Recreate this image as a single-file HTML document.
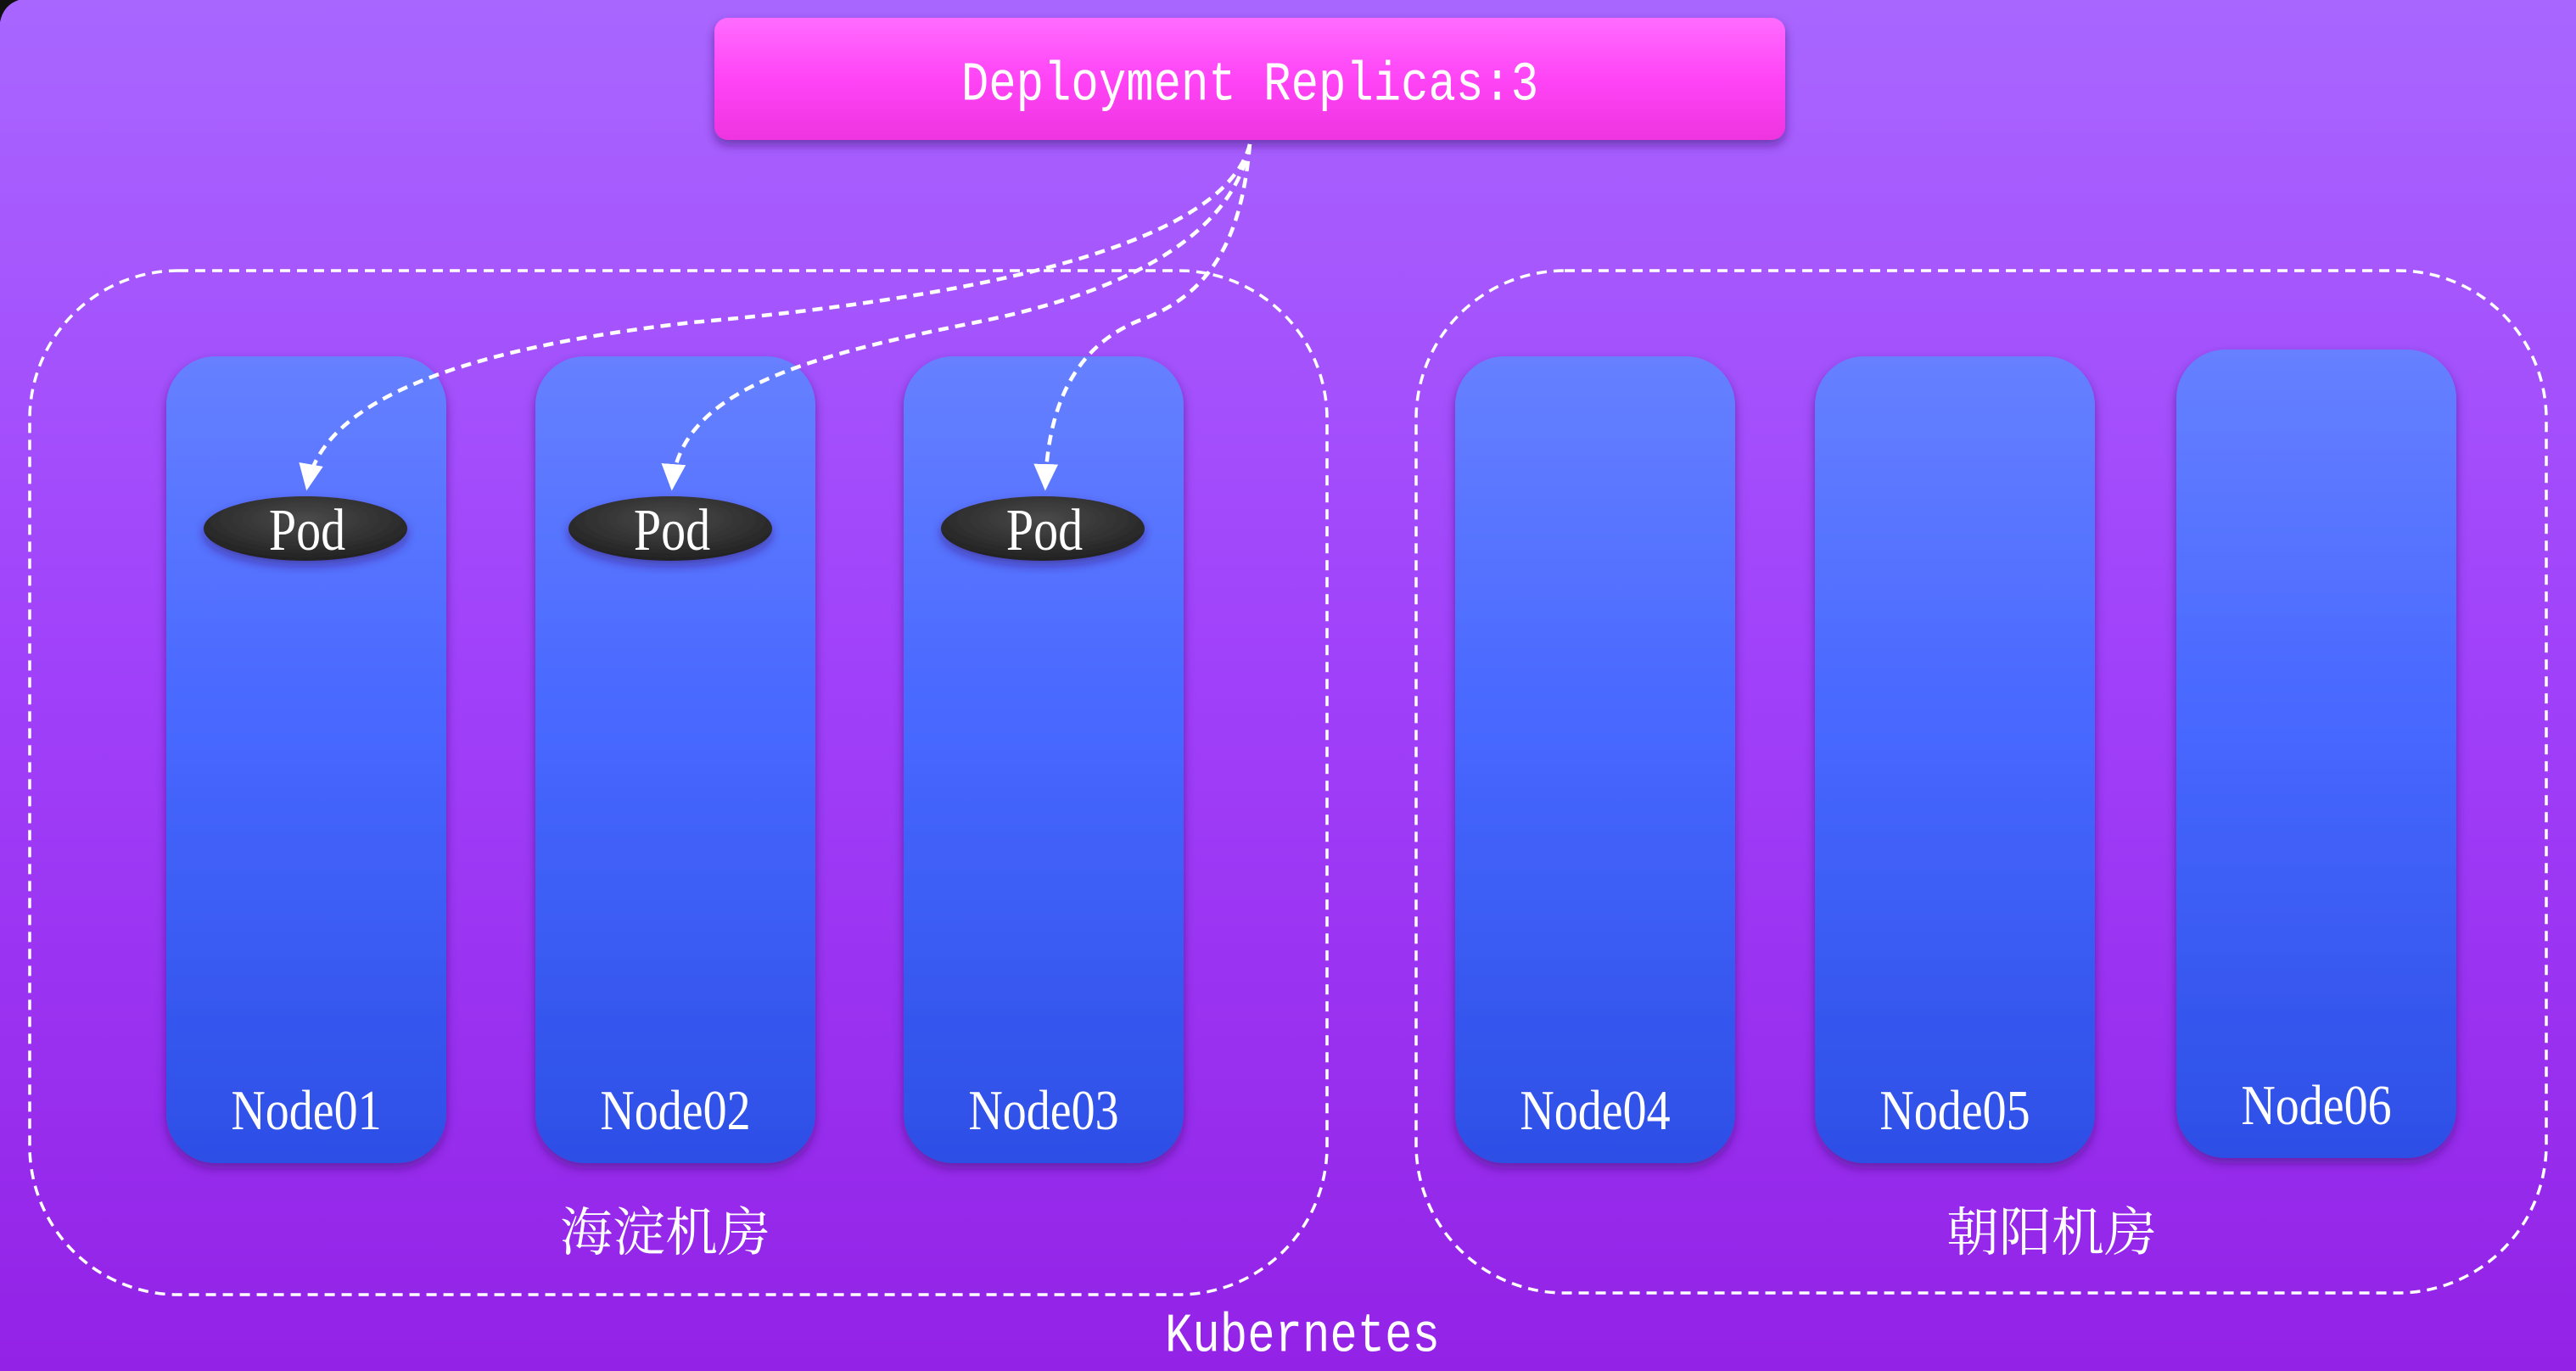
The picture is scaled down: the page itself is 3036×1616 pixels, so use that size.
<!DOCTYPE html>
<html><head><meta charset="utf-8">
<style>
html,body{margin:0;padding:0;width:3036px;height:1616px;overflow:hidden;}
svg{display:block;}
</style></head>
<body>
<svg width="3036" height="1616" viewBox="0 0 3036 1616" xmlns="http://www.w3.org/2000/svg">
<defs>
<linearGradient id="bg" x1="0" y1="0" x2="0" y2="1">
<stop offset="0" stop-color="#a966ff"/>
<stop offset="0.5" stop-color="#a040fa"/>
<stop offset="1" stop-color="#9322e6"/>
</linearGradient>
<linearGradient id="node" x1="0" y1="0" x2="0" y2="1">
<stop offset="0" stop-color="#6680ff"/>
<stop offset="0.45" stop-color="#4868ff"/>
<stop offset="1" stop-color="#2d4fe6"/>
</linearGradient>
<linearGradient id="dep" x1="0" y1="0" x2="0" y2="1">
<stop offset="0" stop-color="#ff6cff"/>
<stop offset="0.5" stop-color="#ff44f6"/>
<stop offset="1" stop-color="#ee34e0"/>
</linearGradient>
<radialGradient id="pod" cx="0.5" cy="0.35" r="0.7">
<stop offset="0" stop-color="#4a4a4a"/>
<stop offset="1" stop-color="#1e1e1e"/>
</radialGradient>
<filter id="sh" x="-20%" y="-20%" width="140%" height="140%">
<feDropShadow dx="0" dy="6" stdDeviation="6" flood-color="#3a0a70" flood-opacity="0.55"/>
</filter>
<marker id="ah" markerWidth="8" markerHeight="8" refX="6" refY="4" orient="auto" markerUnits="strokeWidth">
<path d="M0,0.8 L7,4 L0,7.2 Z" fill="#fff"/>
</marker>
</defs>
<rect width="3036" height="1616" fill="url(#bg)"/>
<path d="M0,0 L22,0 Q4,6 0,26 Z" fill="#111"/>

<rect x="35" y="319" width="1529" height="1207" rx="175" fill="none" stroke="#fff" stroke-width="3.5" stroke-dasharray="12 8"/>
<rect x="1669" y="319" width="1332" height="1205" rx="175" fill="none" stroke="#fff" stroke-width="3.5" stroke-dasharray="12 8"/>

<g filter="url(#sh)" fill="url(#node)">
<rect x="196" y="420" width="330" height="951" rx="58"/>
<rect x="631" y="420" width="330" height="951" rx="58"/>
<rect x="1065" y="420" width="330" height="951" rx="58"/>
<rect x="1715" y="420" width="330" height="951" rx="58"/>
<rect x="2139" y="420" width="330" height="951" rx="58"/>
<rect x="2565" y="412" width="330" height="953" rx="58"/>
</g>
<g font-family="'Liberation Serif','Noto Serif CJK SC',serif" font-size="56" fill="#fff" text-anchor="middle" transform="translate(0,-266) scale(1,1.2)">
<text x="361" y="1331">Node01</text>
<text x="796" y="1331">Node02</text>
<text x="1230" y="1331">Node03</text>
<text x="1880" y="1331">Node04</text>
<text x="2304" y="1331">Node05</text>
<text x="2730" y="1326">Node06</text>
</g>

<rect x="842" y="21" width="1262" height="144" rx="16" fill="url(#dep)" filter="url(#sh)"/>
<text x="1473" y="98" font-family="'Liberation Mono',monospace" font-size="54" fill="#fff" text-anchor="middle" transform="scale(1,1.2)">Deployment Replicas:3</text>

<g filter="url(#sh)" fill="url(#pod)">
<ellipse cx="360" cy="623" rx="120" ry="38"/>
<ellipse cx="790" cy="623" rx="120" ry="38"/>
<ellipse cx="1229" cy="623" rx="120" ry="38"/>
</g>
<g font-family="'Liberation Serif',serif" font-size="58" fill="#fff" text-anchor="middle" transform="translate(0,-108) scale(1,1.2)">
<text x="362" y="630">Pod</text>
<text x="792" y="630">Pod</text>
<text x="1231" y="630">Pod</text>
</g>

<g fill="none" stroke="#fff" stroke-width="4.5" stroke-dasharray="12 8" marker-end="url(#ah)">
<path d="M1473,170 C1440,300 1100,355 816,380 C550,410 380,470 362,574"/>
<path d="M1473,170 C1450,290 1300,350 1150,380 C950,420 800,460 792,574"/>
<path d="M1473,170 C1465,260 1440,340 1350,375 C1280,400 1235,460 1232,574"/>
</g>

<g font-family="'Liberation Serif','Noto Serif CJK SC',serif" font-size="62" fill="#fff" text-anchor="middle">
<text x="784" y="1474">海淀机房</text>
<text x="2418" y="1474">朝阳机房</text>
</g>
<text x="1535" y="1327" font-family="'Liberation Mono',monospace" font-size="54" fill="#fff" text-anchor="middle" transform="scale(1,1.2)">Kubernetes</text>
</svg>
</body></html>
